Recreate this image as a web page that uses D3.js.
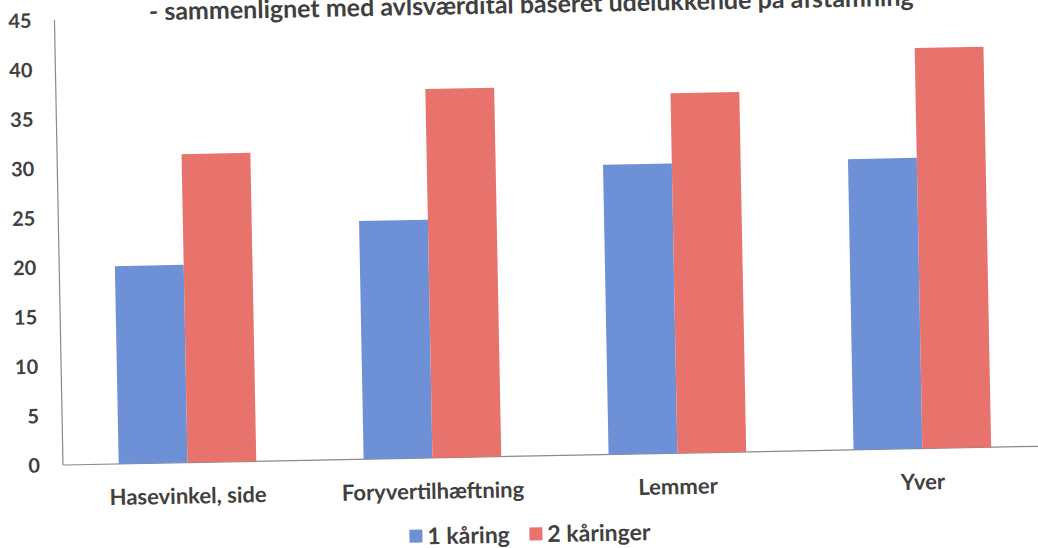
<!DOCTYPE html>
<html>
<head>
<meta charset="utf-8">
<script src="https://cdn.jsdelivr.net/npm/d3@7"></script>
<style>
  body { margin: 0; background: #fff; }
  text { font-family: Lato, "Open Sans", sans-serif; font-weight: bold; fill: #404040; }
</style>
</head>
<body>
<div id="chart"></div>
<script>
var categories = ["Hasevinkel, side", "Foryvertilhæftning", "Lemmer", "Yver"]
var series = ["1 kåring", "2 kåringer"]
var values1 = [20.0, 24.1, 29.3, 29.4]
var values2 = [31.2, 37.3, 36.4, 40.5]
var yTicks = [0, 5, 10, 15, 20, 25, 30, 35, 40, 45]
var titleText = "- sammenlignet med avlsværdital baseret udelukkende på afstamning"
var colors = ["#6d90d6", "#e8726c"]

var width = 1038, height = 548
var origin = {x: 63, y: 465}

var svg = d3.select("#chart").append("svg")
  .attr("width", width)
  .attr("height", height)

// the scanned page is a little skewed, so tilt the whole chart
var g = svg.append("g")
  .attr("transform", "rotate(-1.1," + origin.x + "," + origin.y + ")")

var x = d3.scaleBand()
  .domain(categories)
  .range([origin.x + 2, origin.x + 2 + 980])

var x1 = d3.scaleBand()
  .domain(series)
  .range([0, x.bandwidth()])
  .paddingOuter(0.78)

var y = d3.scaleLinear()
  .domain([0, 45])
  .range([origin.y, origin.y - 445])

// axis lines
g.append("line")
  .attr("x1", origin.x).attr("x2", origin.x)
  .attr("y1", y(0)).attr("y2", y(45))
  .attr("stroke", "#8a8a8a").attr("stroke-width", 1.2)

g.append("line")
  .attr("x1", origin.x).attr("x2", origin.x + 1000)
  .attr("y1", y(0)).attr("y2", y(0))
  .attr("stroke", "#8a8a8a").attr("stroke-width", 1.2)

// y tick labels
g.selectAll(".ytick")
  .data(yTicks)
  .enter().append("text")
  .attr("class", "ytick")
  .attr("x", origin.x - 23)
  .attr("y", d => y(d))
  .attr("dy", "0.36em")
  .attr("text-anchor", "end")
  .style("font-size", "20px")
  .text(d => d)

// bars
var rows = categories.map((c, i) => ({cat: c, vals: [values1[i], values2[i]]}))

var groups = g.selectAll(".grp")
  .data(rows)
  .enter().append("g")
  .attr("class", "grp")
  .attr("transform", d => "translate(" + x(d.cat) + ",0)")

groups.selectAll("rect")
  .data(d => d.vals.map((v, j) => ({s: series[j], v: v, j: j})))
  .enter().append("rect")
  .attr("x", d => x1(d.s))
  .attr("width", x1.bandwidth())
  .attr("y", d => y(d.v))
  .attr("height", d => y(0) - y(d.v))
  .attr("fill", d => colors[d.j])

// category labels
g.selectAll(".xlab")
  .data(categories)
  .enter().append("text")
  .attr("class", "xlab")
  .attr("x", d => x(d) + x.bandwidth() / 2)
  .attr("y", origin.y + 41)
  .attr("text-anchor", "middle")
  .style("font-size", "22px")
  .text(d => d)

// title (top part cut off in the scan)
g.append("text")
  .attr("x", 540)
  .attr("y", 22)
  .attr("text-anchor", "middle")
  .style("font-size", "25px")
  .text(titleText)

// legend
var legend = g.append("g")
  .attr("transform", "translate(408," + 543 + ")")

var legX = [0, 120]
series.forEach((s, i) => {
  legend.append("rect")
    .attr("x", legX[i]).attr("y", -6.5)
    .attr("width", 13).attr("height", 13)
    .attr("fill", colors[i])
  legend.append("text")
    .attr("x", legX[i] + 18).attr("y", 0)
    .attr("dy", "0.36em")
    .style("font-size", "23px")
    .text(s)
})
</script>
</body>
</html>
